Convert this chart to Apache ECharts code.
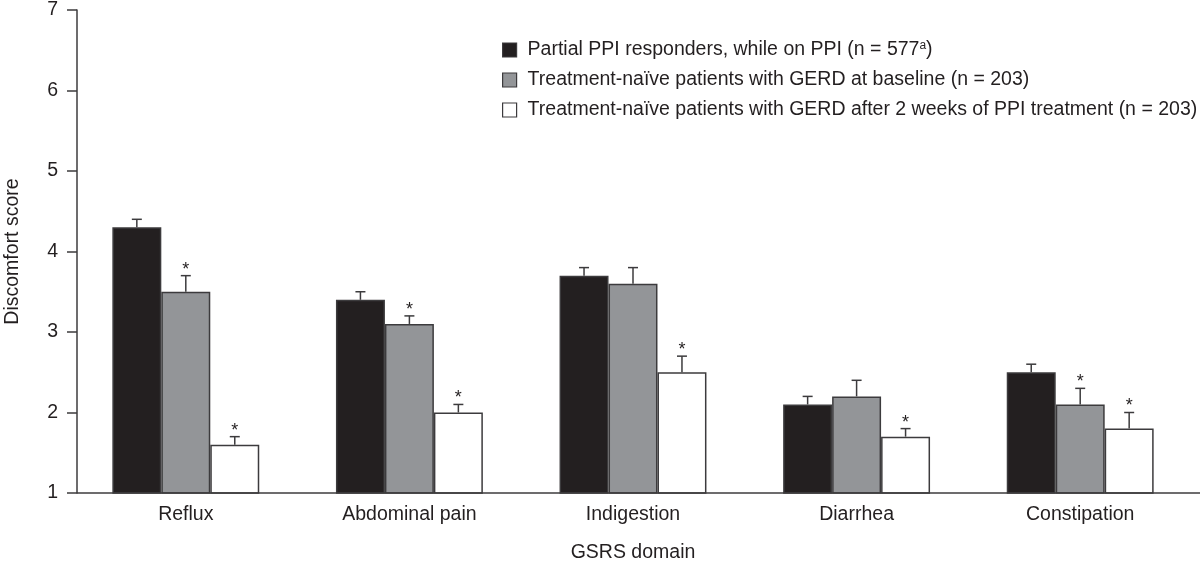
<!DOCTYPE html>
<html><head><meta charset="utf-8">
<script src="https://cdn.jsdelivr.net/npm/echarts@6/dist/echarts.min.js"></script>
<style>html,body{margin:0;padding:0;background:#fff}#c{width:1200px;height:567px}</style>
</head><body><div id="c"></div>
<script>
const categories = ['Reflux', 'Abdominal pain', 'Indigestion', 'Diarrhea', 'Constipation'];
const seriesNames = [
  'Partial PPI responders, while on PPI (n = 577{sup|a})',
  'Treatment-naïve patients with GERD at baseline (n = 203)',
  'Treatment-naïve patients with GERD after 2 weeks of PPI treatment (n = 203)'
];
const partialMean = [4.3, 3.4, 3.7, 2.1, 2.5];
const partialUpper = [4.4, 3.5, 3.8, 2.2, 2.6];
const baselineMean = [3.5, 3.1, 3.6, 2.2, 2.1];
const baselineUpper = [3.7, 3.2, 3.8, 2.4, 2.3];
const afterMean = [1.6, 2.0, 2.5, 1.7, 1.8];
const afterUpper = [1.7, 2.1, 2.7, 1.8, 2.0];
const partialSig = [0, 0, 0, 0, 0];
const baselineSig = [1, 1, 0, 0, 1];
const afterSig = [1, 1, 1, 1, 1];
const yTicks = [1, 2, 3, 4, 5, 6, 7];

const fills = ['#231f20', '#939598', '#ffffff'];
const means = [partialMean, baselineMean, afterMean];
const uppers = [partialUpper, baselineUpper, afterUpper];
const sigs = [partialSig, baselineSig, afterSig];
const BW = 0.219;
const font = 'Liberation Sans, Arial, sans-serif';
const FS = 19.5;
const LINE = '#3c3b3d';

const chart = echarts.init(document.getElementById('c'));
const series = [];
means.forEach((m, i) => {
  series.push({
    name: seriesNames[i], type: 'bar', data: m, barWidth: (BW * 100) + '%', barGap: '0%',
    itemStyle: { color: fills[i], borderColor: LINE, borderWidth: 1.5 },
    silent: true
  });
});
means.forEach((m, i) => {
  const data = m.map((v, k) => [k, v, uppers[i][k], sigs[i][k]]);
  series.push({
    type: 'custom', data: data, silent: true, z: 5,
    renderItem: function (params, api) {
      const k = api.value(0);
      const catW = api.size([1, 0])[0];
      const bw = catW * BW;
      const base = api.coord([k, api.value(1)]);
      const top = api.coord([k, api.value(2)]);
      const x = base[0] + (i - 1) * bw;
      const cap = 5;
      const st = { stroke: LINE, lineWidth: 1.5 };
      const children = [
        { type: 'line', shape: { x1: x, y1: base[1], x2: x, y2: top[1] }, style: st },
        { type: 'line', shape: { x1: x - cap, y1: top[1], x2: x + cap, y2: top[1] }, style: st }
      ];
      if (api.value(3)) {
        children.push({ type: 'text', style: { text: '*', x: x, y: top[1] + 3, align: 'center', verticalAlign: 'bottom', fontSize: 18, fontFamily: font, fill: '#231f20' } });
      }
      return { type: 'group', children: children };
    }
  });
});

chart.setOption({
  animation: false,
  grid: { left: 74, right: 8, top: 10, bottom: 74, outerBoundsMode: 'none', containLabel: false },
  legend: {
    orient: 'vertical', left: 497, top: 35, itemWidth: 14, itemHeight: 14, itemGap: 10,
    data: seriesNames.map(n => ({ name: n, icon: 'rect' })),
    itemStyle: { borderColor: LINE, borderWidth: 1.2 },
    textStyle: { fontSize: FS, fontFamily: font, color: '#231f20', padding: [0, 0, 0, 6],
      rich: { sup: { fontSize: 12, fontFamily: font, color: '#231f20', verticalAlign: 'top', padding: [0, 0, 8, 0] } } },
    formatter: n => n,
    selectedMode: false
  },
  graphic: [{ type: 'line', shape: { x1: 77, y1: 493, x2: 1200, y2: 493 }, style: { stroke: LINE, lineWidth: 1.5 }, z: 10 }],
  xAxis: {
    type: 'category', data: categories,
    name: 'GSRS domain', nameLocation: 'middle', nameGap: 50,
    nameTextStyle: { fontSize: FS, fontFamily: font, color: '#231f20' },
    axisLine: { show: false },
    axisTick: { show: false },
    axisLabel: { fontSize: FS, fontFamily: font, color: '#231f20', margin: 12 }
  },
  yAxis: {
    type: 'value', min: yTicks[0], max: yTicks[yTicks.length - 1], interval: 1, offset: -3,
    name: 'Discomfort score', nameLocation: 'middle', nameGap: 54, nameRotate: 90,
    nameTextStyle: { fontSize: FS, fontFamily: font, color: '#231f20' },
    axisLine: { show: true, lineStyle: { color: LINE, width: 1.5 } },
    axisTick: { show: true, length: 10, lineStyle: { color: LINE, width: 1.5 } },
    splitLine: { show: false },
    axisLabel: { fontSize: FS, fontFamily: font, color: '#231f20', margin: 19 }
  },
  series: series
});
</script></body></html>
